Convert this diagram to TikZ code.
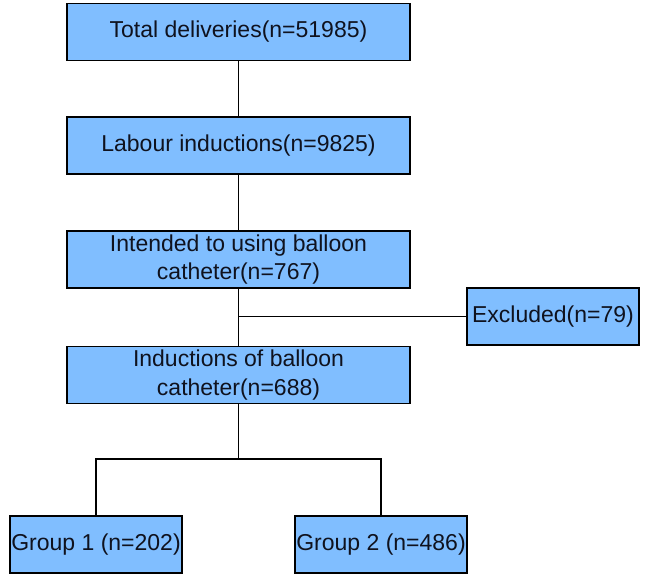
\documentclass[tikz,border=0pt]{standalone}
\usepackage{fontspec}
\setmainfont{Liberation Sans}
\definecolor{boxblue}{RGB}{128,190,255}
\definecolor{txt}{RGB}{15,18,30}
\begin{document}
\begin{tikzpicture}[x=1pt,y=-1pt,
  box/.style={draw=black,fill=boxblue,line width=1.4pt,rectangle,inner sep=0pt,
    align=center,font=\fontsize{23}{28.5}\selectfont,text=txt},
  mainbox/.style={box,minimum width=343pt,minimum height=57pt},
  smallbox/.style={box,minimum width=172pt,minimum height=57pt},
  link/.style={line width=1.4pt,draw=black}]
\useasboundingbox (0,0) rectangle (646,587);
\node[mainbox] (b1) at (238.5,32) {Total deliveries(n=51985)};
\node[mainbox] (b2) at (238.5,145.5) {Labour inductions(n=9825)};
\node[mainbox] (b3) at (238.5,259.5) {Intended to using balloon\\catheter(n=767)};
\node[mainbox] (b4) at (238.5,375) {Inductions of balloon\\catheter(n=688)};
\node[smallbox] (ex) at (553,316.5) {Excluded(n=79)};
\node[smallbox] (g1) at (96,544.5) {Group 1 (n=202)};
\node[smallbox] (g2) at (381,544.5) {Group 2 (n=486)};
\coordinate (j) at (238.5,316.5);
\coordinate (br) at (238.5,459);
\draw[link] (b1) -- (b2);
\draw[link] (b2) -- (b3);
\draw[link] (b3) -- (b4);
\draw[link] (j) -- (ex.west);
\draw[link] (b4.south) -- (br);
\draw[link] (g1.north) |- (br) -| (g2.north);
\end{tikzpicture}
\end{document}
